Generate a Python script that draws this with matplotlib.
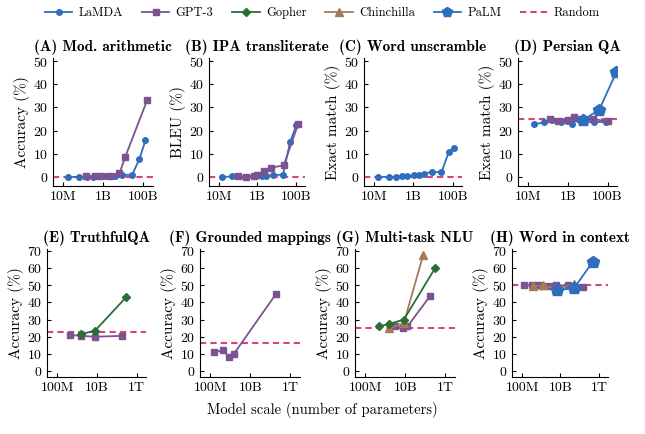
import matplotlib
matplotlib.use("Agg")
import matplotlib.pyplot as plt
from matplotlib.lines import Line2D
from matplotlib.ticker import LogLocator, NullFormatter
import numpy as np

plt.rcParams["font.family"] = ["cmr10", "DejaVu Serif"]
plt.rcParams["axes.formatter.use_mathtext"] = True
plt.rcParams["mathtext.fontset"] = "cm"

COLORS = {"LaMDA": "#2f6ebd", "GPT-3": "#7a5390", "Gopher": "#2a6e36",
          "Chinchilla": "#a47b55", "PaLM": "#2f6ebd"}
MARKERS = {"LaMDA": ("o", 4), "GPT-3": ("s", 4), "Gopher": ("D", 4),
           "Chinchilla": ("^", 6), "PaLM": ("p", 9)}
RANDOM_COLOR = "#d6457a"

# log10(params) and scores per panel
mod_lamda_x = [7.25, 7.78, 8.19, 8.49, 8.82, 9.15, 9.56, 9.94, 10.44, 10.8, 11.1]
mod_lamda_y = [0, 0, 0, 0, 0.3, 0.3, 0.5, 0.8, 1, 7.8, 15.8]
mod_gpt3_x = [8.12, 8.57, 8.9, 9.31, 9.8, 10.09, 11.18]
mod_gpt3_y = [0.3, 0.3, 0.4, 0.5, 1.5, 8.7, 33]

ipa_lamda_x = [7.17, 7.67, 8.33, 8.75, 9.25, 9.47, 9.83, 10.33, 10.7, 11.03]
ipa_lamda_y = [0, 0.2, 0, 0.2, 0.5, 0.3, 0.8, 1, 15, 22.5]
ipa_gpt3_x = [8.0, 8.42, 8.83, 9.0, 9.33, 9.72, 10.37, 11.13]
ipa_gpt3_y = [0.5, 0, 0.3, 1, 2.5, 4, 5, 23]

uns_lamda_x = [7.2, 7.75, 8.13, 8.42, 8.67, 9.03, 9.3, 9.55, 9.93, 10.43, 10.8, 11.08]
uns_lamda_y = [0, 0, 0, 0.3, 0.3, 0.8, 1, 1.3, 2.3, 2, 10.7, 12.3]

pqa_lamda_x = [7.27, 7.77, 8.2, 8.63, 8.97, 9.2, 9.5, 9.83, 10.3, 10.9]
pqa_lamda_y = [22.7, 23.5, 24.5, 23.5, 24, 23, 25, 24, 23.7, 23.7]
pqa_gpt3_x = [8.1, 8.5, 9.0, 9.33, 10.25, 11.0]
pqa_gpt3_y = [25, 24, 24.5, 26, 25, 24]
pqa_palm_x = [9.75, 10.58, 11.45]
pqa_palm_y = [24.5, 29, 45.3]

tqa_gpt3_x = [8.63, 9.19, 9.9, 11.27]
tqa_gpt3_y = [21, 20.5, 20, 20.5]
tqa_gopher_x = [9.19, 9.9, 11.47]
tqa_gopher_y = [21.5, 23.5, 43]

gm_gpt3_x = [8.17, 8.62, 8.95, 9.17, 11.28]
gm_gpt3_y = [11, 12, 8, 10, 45]

nlu_gopher_x = [8.67, 9.2, 9.92, 11.48]
nlu_gopher_y = [26, 27.5, 30, 60]
nlu_chin_x = [9.2, 9.92, 10.88]
nlu_chin_y = [25, 28, 67.5]
nlu_gpt3_x = [9.5, 9.88, 10.1, 11.25]
nlu_gpt3_y = [26, 25, 26, 44]

wic_gpt3_x = [8.08, 8.5, 8.83, 9.05, 9.4, 9.77, 10.37, 11.17]
wic_gpt3_y = [50, 50.2, 50.3, 49.5, 49.5, 50, 50, 48.8]
wic_chin_x = [8.58, 9.08, 9.77, 10.73]
wic_chin_y = [49.5, 50, 48, 50.5]
wic_palm_x = [9.83, 10.72, 11.67]
wic_palm_y = [47, 48.5, 63.5]

panels = [
    ("(A) Mod. arithmetic", "Accuracy (%)", 0.0,
     [("LaMDA", mod_lamda_x, mod_lamda_y), ("GPT-3", mod_gpt3_x, mod_gpt3_y)]),
    ("(B) IPA transliterate", "BLEU (%)", 0.0,
     [("LaMDA", ipa_lamda_x, ipa_lamda_y), ("GPT-3", ipa_gpt3_x, ipa_gpt3_y)]),
    ("(C) Word unscramble", "Exact match (%)", 0.0,
     [("LaMDA", uns_lamda_x, uns_lamda_y)]),
    ("(D) Persian QA", "Exact match (%)", 25.0,
     [("LaMDA", pqa_lamda_x, pqa_lamda_y), ("GPT-3", pqa_gpt3_x, pqa_gpt3_y),
      ("PaLM", pqa_palm_x, pqa_palm_y)]),
    ("(E) TruthfulQA", "Accuracy (%)", 22.6,
     [("GPT-3", tqa_gpt3_x, tqa_gpt3_y), ("Gopher", tqa_gopher_x, tqa_gopher_y)]),
    ("(F) Grounded mappings", "Accuracy (%)", 16.6,
     [("GPT-3", gm_gpt3_x, gm_gpt3_y)]),
    ("(G) Multi-task NLU", "Accuracy (%)", 25.0,
     [("GPT-3", nlu_gpt3_x, nlu_gpt3_y), ("Chinchilla", nlu_chin_x, nlu_chin_y),
      ("Gopher", nlu_gopher_x, nlu_gopher_y)]),
    ("(H) Word in context", "Accuracy (%)", 50.0,
     [("GPT-3", wic_gpt3_x, wic_gpt3_y), ("Chinchilla", wic_chin_x, wic_chin_y),
      ("PaLM", wic_palm_x, wic_palm_y)]),
]

W, H = 645, 434
fig = plt.figure(figsize=(W / 100, H / 100), dpi=100)

# pixel boxes: left, right, top, bottom
boxes = [(53, 153, 58, 186), (209, 305, 58, 186), (364, 462, 58, 186), (518, 617, 58, 186),
         (47, 146, 249, 377), (200, 300, 249, 377), (355, 455, 249, 377), (512, 608, 249, 377)]

for i, ((title, ylabel, rnd, series), (l, r, t, b)) in enumerate(zip(panels, boxes)):
    ax = fig.add_axes([l / W, 1 - b / H, (r - l) / W, (b - t) / H])
    top = i < 4
    for name, xs, ys in series:
        m, ms = MARKERS[name]
        ax.plot(10 ** np.array(xs), ys, color=COLORS[name], marker=m, markersize=ms,
                linewidth=1.3, zorder=3 if name != "PaLM" else 4)
    ax.axhline(rnd, color=RANDOM_COLOR, linestyle=(0, (3, 2)), linewidth=1.5, zorder=2)
    ax.set_xscale("log")
    if top:
        ax.set_xlim(3e6, 3e11)
        ax.set_ylim(-3.9, 51.3)
        ax.set_yticks([0, 10, 20, 30, 40, 50])
        ax.set_xticks([1e7, 1e9, 1e11])
        ax.set_xticklabels(["10M", "1B", "100B"])
    else:
        ax.set_xlim(3e7, 3e12)
        ax.set_ylim(-3.5, 71.2)
        ax.set_yticks([0, 10, 20, 30, 40, 50, 60, 70])
        ax.set_xticks([1e8, 1e10, 1e12])
        ax.set_xticklabels(["100M", "10B", "1T"])
    ax.xaxis.set_minor_locator(LogLocator(base=10, subs=np.arange(2, 10)))
    ax.xaxis.set_minor_formatter(NullFormatter())
    ax.tick_params(axis="x", which="minor", direction="in", length=2, width=0.5)
    ax.tick_params(axis="both", which="major", direction="in", length=3, labelsize=10)
    for s in ("top", "right"):
        ax.spines[s].set_visible(False)
    ax.set_ylabel(ylabel, fontsize=11, labelpad=2)
    ax.set_title(title, fontsize=11, fontweight="bold", family=["cmb10", "DejaVu Serif"], pad=5)

fig.text(0.5, 1 - 410 / H, "Model scale (number of parameters)", ha="center", va="center", fontsize=10.5)

handles = [Line2D([], [], color=COLORS[n], marker=MARKERS[n][0],
                  markersize=MARKERS[n][1] * (0.8 if n == "PaLM" else 1), linewidth=1.3)
           for n in ["LaMDA", "GPT-3", "Gopher", "Chinchilla", "PaLM"]]
handles.append(Line2D([], [], color=RANDOM_COLOR, linestyle=(0, (3, 2)), linewidth=1.5))
fig.legend(handles, ["LaMDA", "GPT-3", "Gopher", "Chinchilla", "PaLM", "Random"],
           loc="center", bbox_to_anchor=(0.5, 1 - 13 / H), ncol=6, frameon=False,
           fontsize=9, handlelength=2.2, columnspacing=1.5, handletextpad=0.5)

fig.savefig("out.png", dpi=100)
